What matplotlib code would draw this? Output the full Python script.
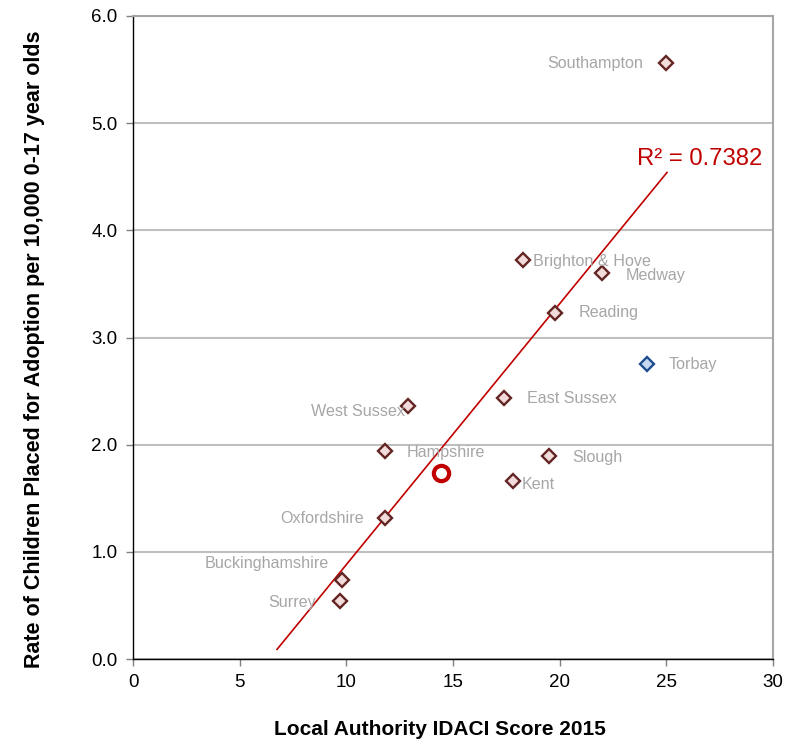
import matplotlib
matplotlib.use("Agg")
import matplotlib.pyplot as plt

plt.rcParams['font.family'] = ['Liberation Sans', 'DejaVu Sans']

# local authorities: IDACI score vs adoption rate
names = ["Southampton", "Brighton & Hove", "Medway", "Reading", "Torbay",
         "East Sussex", "West Sussex", "Hampshire", "Slough", "Kent",
         "Oxfordshire", "Buckinghamshire", "Surrey"]
idaci = [25.0, 18.3, 22.0, 19.8, 24.1, 17.4, 12.9, 11.8, 19.5, 17.8, 11.8, 9.8, 9.7]
rate = [5.56, 3.72, 3.60, 3.23, 2.75, 2.44, 2.36, 1.94, 1.89, 1.66, 1.32, 0.74, 0.54]

# highlighted authority (Torbay) and the average point
highlight = "Torbay"
avg_x = [14.45]
avg_y = [1.74]

# linear trendline as drawn in the chart
trend_x = [6.75, 25.03]
trend_y = [0.09, 4.54]
r2_text = "R² = 0.7382"

x_ticks = [0, 5, 10, 15, 20, 25, 30]
y_ticks = [0.0, 1.0, 2.0, 3.0, 4.0, 5.0, 6.0]

# label offsets in pixels (dx, dy, alignment)
offsets = {
    "Southampton": (-23, 0, "right"),
    "Brighton & Hove": (10, -1, "left"),
    "Medway": (23, -2, "left"),
    "Reading": (23, 0, "left"),
    "Torbay": (21, 0, "left"),
    "East Sussex": (23, -1, "left"),
    "West Sussex": (-3, -5, "right"),
    "Hampshire": (22, -1, "left"),
    "Slough": (23, -1, "left"),
    "Kent": (9, -3, "left"),
    "Oxfordshire": (-21, -1, "right"),
    "Buckinghamshire": (-13, 16, "right"),
    "Surrey": (-24, -1, "right"),
}

fig = plt.figure(figsize=(7.98, 7.5), dpi=100)
ax = fig.add_axes([0.1667, 0.1213, 0.8020, 0.8574])

ax.set_xlim(0, 30)
ax.set_ylim(0, 6)
ax.set_xticks(x_ticks)
ax.set_yticks(y_ticks)
ax.set_yticklabels([f"{v:.1f}" for v in y_ticks])
ax.grid(axis='y', color='#bfbfbf', linewidth=1.5, zorder=0)
ax.set_axisbelow(True)

for side in ['top', 'right']:
    ax.spines[side].set_color('#a6a6a6')
    ax.spines[side].set_linewidth(1.5)
for side in ['left', 'bottom']:
    ax.spines[side].set_color('black')
    ax.spines[side].set_linewidth(1.0)

ax.tick_params(axis='both', direction='out', length=5, width=1, color='#808080',
               labelsize=13.5, labelcolor='black', pad=6)

ax.plot(trend_x, trend_y, color='#c00000', linewidth=1.2, zorder=2)

for n, xv, yv in zip(names, idaci, rate):
    if n == highlight:
        ec, fc = '#1f4e8c', '#c6d9f1'
    else:
        ec, fc = '#632423', '#f2dcdb'
    ax.plot(xv, yv, marker='D', markersize=7, markeredgewidth=1.7,
            markeredgecolor=ec, markerfacecolor=fc, linestyle='none', zorder=4)
    dx, dy, ha = offsets[n]
    ax.annotate(n, (xv, yv), xytext=(dx, dy), textcoords='offset pixels',
                ha=ha, va='center', fontsize=11.6, color='#a6a6a6', zorder=5)

ax.plot(avg_x, avg_y, marker='o', markersize=11, markeredgewidth=3,
        markeredgecolor='#c00000', markerfacecolor='white', linestyle='none', zorder=4)

ax.annotate(r2_text, (trend_x[1], trend_y[1]), xytext=(-30, 13),
            textcoords='offset pixels', ha='left', va='center',
            fontsize=17.2, color='#c00000')

ax.set_xlabel("Local Authority IDACI Score 2015", fontsize=15, fontweight='bold')
ax.set_ylabel("Rate of Children Placed for Adoption per 10,000 0-17 year olds",
              fontsize=15.5, fontweight='bold')
ax.xaxis.set_label_coords(0.479, -0.095)
ax.yaxis.set_label_coords(-0.137, 0.481)

fig.savefig("out.png", dpi=100)
